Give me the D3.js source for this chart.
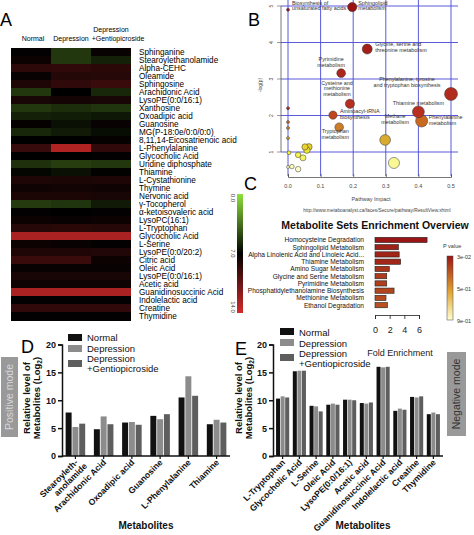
<!DOCTYPE html>
<html lang="en">
<head>
<meta charset="utf-8">
<title>Metabolomics figure: heatmap, pathway impact, enrichment, bar charts</title>
<script src="https://d3js.org/d3.v7.min.js"></script>
<style>
  body { margin: 0; background: #fff; }
  text { font-family: "Liberation Sans", Arial, sans-serif; }
</style>
</head>
<body>
<script>

// ---------- data ----------
// A: heatmap (colour scale 0 .. 14, 7 = black)
var heatGroups = ["Normal", "Depression", "Depression +Gentiopicroside"];
var heatRows = ["Sphinganine", "Stearoylethanolamide", "Alpha-CEHC", "Oleamide", "Sphingosine",
  "Arachidonic Acid", "LysoPE(0:0/16:1)", "Xanthosine", "Oxoadipic acid", "Guanosine",
  "MG(P-18:0e/0:0/0:0)", "8,11,14-Eicosatrienoic acid", "L-Phenylalanine", "Glycocholic Acid",
  "Uridine diphosphate", "Thiamine", "L-Cystathionine", "Thymine", "Nervonic acid", "γ-Tocopherol",
  "α-ketoisovaleric acid", "LysoPC(16:1)", "L-Tryptophan", "Glycocholic Acid", "L-Serine",
  "LysoPE(0:0/20:2)", "Citric acid", "Oleic Acid", "LysoPE(0:0/16:1)", "Acetic acid",
  "Guanidinosuccinic Acid", "Indolelactic acid", "Creatine", "Thymidine"];
var heatNormal = [7.1, 7.4, 8.5, 7.3, 8.0, 5.3, 7.8, 5.3, 6.0, 7.2, 5.8, 7.0, 8.8, 7.0, 5.5, 6.8, 8.0,
  7.5, 7.9, 5.2, 7.1, 7.4, 8.3, 12.6, 7.4, 8.0, 8.9, 7.3, 7.8, 7.5, 12.6, 7.1, 8.6, 7.1];
var heatDepression = [5.3, 5.3, 8.6, 8.2, 8.6, 7.0, 7.7, 5.6, 6.1, 6.5, 6.2, 7.0, 12.8, 7.0, 5.1, 6.5, 7.9,
  7.6, 7.9, 5.4, 7.0, 7.3, 8.4, 12.6, 7.3, 8.0, 8.9, 7.3, 7.8, 7.5, 12.6, 7.1, 8.6, 7.1];
var heatGentio = [7.3, 6.0, 8.4, 8.3, 8.9, 5.8, 7.8, 5.4, 6.3, 7.3, 6.6, 7.2, 8.6, 7.1, 5.3, 6.9, 8.0,
  7.5, 7.8, 6.2, 7.1, 7.4, 8.3, 12.6, 7.1, 8.1, 7.4, 7.3, 7.8, 7.5, 12.6, 7.1, 8.6, 7.1];
var heatTicks = ["0.0", "7.0", "14.0"];

// B: pathway impact vs -log(p)
var pathNames = ["Biosynthesis of unsaturated fatty acids", "Sphingolipid metabolism",
  "Glycine, serine and threonine metabolism", "Pyrimidine metabolism",
  "Phenylalanine, tyrosine and tryptophan biosynthesis", "Cysteine and methionine metabolism",
  "Aminoacyl-tRNA biosynthesis", "Thiamine metabolism", "Phenylalanine metabolism",
  "Tryptophan metabolism", "Methane metabolism", "", "", "", "", "", "", "", "", "", "", "", "", "", ""];
var pathImpact = [0.0, 0.197, 0.243, 0.163, 0.5, 0.19, 0.138, 0.40, 0.41, 0.157, 0.298, 0.325,
  0.0, 0.0, 0.0, 0.0, 0.003, 0.052, 0.064, 0.058, 0.031, 0.046, 0.0, 0.012, 0.031];
var pathLogP = [4.9, 4.97, 3.82, 3.16, 2.59, 2.32, 2.01, 2.1, 1.85, 1.68, 1.33, 0.70,
  2.2, 1.82, 1.66, 1.38, 0.98, 1.14, 1.14, 1.05, 0.92, 0.84, 0.59, 0.6, 0.53];
var impactTicks = [0, 0.1, 0.2, 0.3, 0.4, 0.5];
var logPTicks = [1, 2, 3, 4, 5];

// C: enrichment overview
var setNames = ["Homocysteine Degradation", "Sphingolipid Metabolism",
  "Alpha Linolenic Acid and Linoleic Acid...", "Thiamine Metabolism", "Amino Sugar Metabolism",
  "Glycine and Serine Metabolism", "Pyrimidine Metabolism", "Phosphatidylethanolamine Biosynthesis",
  "Methionine Metabolism", "Ethanol Degradation"];
var setFold = [7.1, 3.2, 3.3, 3.5, 1.95, 1.6, 1.6, 2.6, 1.5, 1.7];
var setP = [0.03, 0.07, 0.08, 0.09, 0.13, 0.16, 0.17, 0.19, 0.21, 0.23];
var foldTicks = [0, 2, 4, 6];
var pTickLabels = ["3e-02", "5e-01", "9e-01"];

// D / E: relative level bars
var barSeries = ["Normal", "Depression", "Depression\n+Gentiopicroside"];
var posGroups = ["Stearoyleth-\nanolamide", "Arachidonic Acid", "Oxoadipic acid", "Guanosine",
  "L-Phenylalanine", "Thiamine"];
var posNormal = [7.8, 4.8, 6.0, 7.2, 10.5, 5.7];
var posDepression = [5.2, 7.1, 6.1, 6.6, 14.3, 6.5];
var posGentio = [5.8, 5.7, 5.6, 7.5, 10.8, 6.0];
var negGroups = ["L-Tryptophan", "Glycocholic Acid", "L-Serine", "Oleic Acid", "LysoPE(0:0/16:1)",
  "Acetic acid", "Guanidinosuccinic Acid", "Indolelactic acid", "Creatine", "Thymidine"];
var negNormal = [10.3, 15.2, 9.0, 9.2, 10.1, 9.5, 16.0, 8.1, 10.6, 7.5];
var negDepression = [10.7, 15.3, 8.9, 9.4, 10.1, 9.4, 15.9, 8.5, 10.5, 7.8];
var negGentio = [10.5, 15.3, 8.0, 9.2, 10.0, 9.6, 16.0, 8.3, 10.7, 7.5];
var levelTicks = [0, 5, 10, 15, 20];

// ---------- svg ----------
var w = 474, h = 535;
var svg = d3.select("body").append("svg")
    .attr("width", w).attr("height", h)
    .style("background", "#fff");
var defs = svg.append("defs");

function panelLetter(t, x, y) {
  svg.append("text").attr("x", x).attr("y", y)
      .attr("font-size", 18).attr("fill", "#000").text(t);
}

// ================= A: heatmap =================
panelLetter("A", 0, 26);

var heatColor = d3.scaleLinear().domain([0, 7, 14])
    .range(["#8ee23a", "#000000", "#d42a2a"]).clamp(true);
var hx = d3.scaleBand().domain(heatGroups).range([11, 131]);
var hy = d3.scaleBand().domain(d3.range(heatRows.length)).range([48, 320]);

var heatCols = [heatNormal, heatDepression, heatGentio];
heatCols.forEach(function (col, ci) {
  svg.append("g").attr("shape-rendering", "crispEdges").selectAll("rect")
      .data(col)
      .enter().append("rect")
      .attr("x", hx(heatGroups[ci]))
      .attr("y", function (d, i) { return hy(i); })
      .attr("width", hx.bandwidth() + (ci < 2 ? 1 : 0))
      .attr("height", hy.bandwidth() + 1)
      .attr("fill", function (d) { return heatColor(d); });
});

// column headers
svg.append("text").attr("x", hx(heatGroups[0]) + hx.bandwidth() / 2 + 2).attr("y", 41)
    .attr("text-anchor", "middle").attr("font-size", 7).text("Normal");
svg.append("text").attr("x", hx(heatGroups[1]) + hx.bandwidth() / 2).attr("y", 41)
    .attr("text-anchor", "middle").attr("font-size", 7).text("Depression");
svg.append("text").attr("x", hx(heatGroups[2]) + hx.bandwidth() / 2).attr("y", 32)
    .attr("text-anchor", "middle").attr("font-size", 7).text("Depression");
svg.append("text").attr("x", hx(heatGroups[2]) + hx.bandwidth() / 2 + 7).attr("y", 41)
    .attr("text-anchor", "middle").attr("font-size", 7).text("+Gentiopicroside");

// row labels
svg.append("g").selectAll("text")
    .data(heatRows)
    .enter().append("text")
    .attr("x", 139)
    .attr("y", function (d, i) { return hy(i) + hy.bandwidth() / 2 + 3; })
    .attr("font-size", 8.2)
    .attr("fill", "#000")
    .text(function (d) { return d; });

// colour bar
var hg = defs.append("linearGradient").attr("id", "heatGrad")
    .attr("x1", 0).attr("y1", 0).attr("x2", 0).attr("y2", 1);
[0, 3.5, 7, 10.5, 14].forEach(function (v) {
  hg.append("stop").attr("offset", v / 14).attr("stop-color", heatColor(v));
});
var cbY = d3.scaleLinear().domain([0, 14]).range([194, 313]);
svg.append("rect").attr("x", 237).attr("y", cbY(0)).attr("width", 6)
    .attr("height", cbY(14) - cbY(0)).attr("fill", "url(#heatGrad)");
heatTicks.forEach(function (t) {
  var yy = cbY(+t);
  if (+t === 0) yy += 4;
  if (+t === 14) yy -= 6;
  svg.append("text").attr("transform", "translate(231," + yy + ") rotate(90)")
      .attr("text-anchor", "middle").attr("font-size", 6).attr("fill", "#444").text(t);
});

// ================= B: pathway impact =================
panelLetter("B", 248, 26);

var bx = d3.scaleLinear().domain([0, 0.5]).range([288, 451]);
var by = d3.scaleLinear().domain([1, 5]).range([152, 6]);
var br = d3.scaleSqrt().domain([0, 0.5]).range([1.5, 6.5]);
var bColor = d3.scaleLinear()
    .domain([0.5, 1.0, 1.35, 1.7, 1.9, 2.1, 5])
    .range(["#ffffd8", "#f2ee30", "#d8a630", "#cc7a28", "#c8641e", "#b83020", "#9a1212"])
    .clamp(true);

var gB = svg.append("g");
// grid
gB.selectAll("line.v").data(impactTicks).enter().append("line")
    .attr("x1", function (d) { return bx(d); }).attr("x2", function (d) { return bx(d); })
    .attr("y1", 0).attr("y2", 176)
    .attr("stroke", "#4848d8").attr("stroke-width", 0.9);
gB.selectAll("line.h").data(logPTicks).enter().append("line")
    .attr("x1", 281).attr("x2", 458)
    .attr("y1", function (d) { return by(d); }).attr("y2", function (d) { return by(d); })
    .attr("stroke", "#4848d8").attr("stroke-width", 0.9);

// y axis
gB.append("line").attr("x1", 281).attr("x2", 281).attr("y1", by(5)).attr("y2", by(1))
    .attr("stroke", "#555").attr("stroke-width", 0.8);
logPTicks.forEach(function (t) {
  gB.append("line").attr("x1", 277).attr("x2", 281).attr("y1", by(t)).attr("y2", by(t))
      .attr("stroke", "#555").attr("stroke-width", 0.6);
  gB.append("text").attr("transform", "translate(273," + by(t) + ") rotate(-90)")
      .attr("text-anchor", "middle").attr("font-size", 5).attr("fill", "#444").text(t);
});
gB.append("text").attr("transform", "translate(262,85) rotate(-90)")
    .attr("text-anchor", "middle").attr("font-size", 5).attr("fill", "#444").text("-log(p)");

// x axis
var bxAxis = gB.append("g").attr("transform", "translate(0,177)")
    .call(d3.axisTop(bx).tickValues(impactTicks).tickSize(3).tickFormat(""));
bxAxis.select(".domain").attr("stroke", "#555").attr("stroke-width", 0.8);
bxAxis.selectAll(".tick line").attr("stroke", "#555").attr("stroke-width", 0.8);
impactTicks.forEach(function (t) {
  gB.append("text").attr("x", bx(t)).attr("y", 188).attr("text-anchor", "middle")
      .attr("font-size", 5.5).attr("fill", "#444").text(d3.format(".1f")(t));
});
gB.append("text").attr("x", 371).attr("y", 201).attr("text-anchor", "middle")
    .attr("font-size", 5.5).attr("fill", "#444").text("Pathway Impact");
gB.append("text").attr("x", 377).attr("y", 212).attr("text-anchor", "middle")
    .attr("font-size", 4.8).attr("fill", "#444")
    .text("http://www.metaboanalyst.ca/faces/Secure/pathway/ResultView.xhtml");

// bubbles (draw small ones last so they sit on top)
var bubbles = pathImpact.map(function (d, i) {
  return { name: pathNames[i], impact: d, logp: pathLogP[i] };
});
bubbles.sort(function (a, b) { return b.impact - a.impact; });
gB.selectAll("circle").data(bubbles).enter().append("circle")
    .attr("cx", function (d) { return bx(d.impact); })
    .attr("cy", function (d) { return by(d.logp); })
    .attr("r", function (d) { return br(d.impact); })
    .attr("fill", function (d) { return bColor(d.logp); })
    .attr("stroke", "#333").attr("stroke-width", 0.5);

// bubble labels: [index, dx, dy, anchor, lines]
var bubbleLabels = [
  [0, 4, -5, "start", ["Biosynthesis of", "unsaturated fatty acids"]],
  [1, 6, -2.5, "start", ["Sphingolipid", "metabolism"]],
  [2, 8, -3, "start", ["Glycine, serine and", "threonine metabolism"]],
  [3, -10, -12, "middle", ["Pyrimidine", "metabolism"]],
  [4, -44, -13, "middle", ["Phenylalanine, tyrosine", "and tryptophan biosynthesis"]],
  [5, -13, -19, "middle", ["Cysteine and", "methionine", "metabolism"]],
  [6, 7, -2, "start", ["Aminoacyl-tRNA", "biosynthesis"]],
  [7, 0, -7, "middle", ["Thiamine metabolism"]],
  [8, 7, -2, "start", ["Phenylalanine", "metabolism"]],
  [9, -4, 6, "middle", ["Tryptophan", "metabolism"]],
  [10, 10, -22, "middle", ["Methane", "metabolism"]]
];
bubbleLabels.forEach(function (l) {
  var i = l[0];
  var t = gB.append("text")
      .attr("x", bx(pathImpact[i]) + l[1])
      .attr("y", by(pathLogP[i]) + l[2])
      .attr("text-anchor", l[3]).attr("font-size", 5.4).attr("fill", "#333");
  l[4].forEach(function (s, k) {
    t.append("tspan").attr("x", bx(pathImpact[i]) + l[1]).attr("dy", k === 0 ? 0 : 5.6).text(s);
  });
});

// ================= C: enrichment =================
panelLetter("C", 244, 190);

svg.append("text").attr("x", 375).attr("y", 229).attr("text-anchor", "middle")
    .attr("font-size", 10.5).attr("font-weight", "bold").attr("fill", "#111")
    .text("Metabolite Sets Enrichment Overview");

var cx = d3.scaleLinear().domain([0, 6]).range([375, 419]);
var cy = d3.scaleBand().domain(setNames).range([235.3, 309.8]).padding(0.28);
var pColor = d3.scaleLinear().domain([0.03, 0.5, 0.9])
    .range(["#9a1515", "#e0a030", "#ffffd0"]);

var gC = svg.append("g");
gC.selectAll("rect").data(setNames).enter().append("rect")
    .attr("x", cx(0))
    .attr("y", function (d) { return cy(d); })
    .attr("width", function (d, i) { return cx(setFold[i]) - cx(0); })
    .attr("height", cy.bandwidth())
    .attr("fill", function (d, i) { return pColor(setP[i]); })
    .attr("stroke", "#222").attr("stroke-width", 0.6);
gC.selectAll("text.lab").data(setNames).enter().append("text")
    .attr("x", 364)
    .attr("y", function (d) { return cy(d) + cy.bandwidth() / 2 + 2.4; })
    .attr("text-anchor", "end").attr("font-size", 6.6).attr("fill", "#111")
    .text(function (d) { return d; });

var cAxis = gC.append("g").attr("transform", "translate(0,315)")
    .call(d3.axisBottom(cx).tickValues(foldTicks).tickFormat(d3.format("d"))
        .tickSize(4).tickPadding(8));
cAxis.select(".domain").attr("stroke", "#222").attr("stroke-width", 0.8);
cAxis.selectAll(".tick line").attr("stroke", "#222").attr("stroke-width", 0.8);
cAxis.selectAll(".tick text").attr("font-size", 9).attr("fill", "#222")
    .attr("font-family", "Liberation Sans, Arial, sans-serif");
gC.append("text").attr("x", 400).attr("y", 356).attr("text-anchor", "middle")
    .attr("font-size", 9).attr("fill", "#222").text("Fold Enrichment");

// p value legend
var pg = defs.append("linearGradient").attr("id", "pGrad")
    .attr("x1", 0).attr("y1", 0).attr("x2", 0).attr("y2", 1);
[0.03, 0.25, 0.5, 0.7, 0.9].forEach(function (v) {
  pg.append("stop").attr("offset", (v - 0.03) / 0.87).attr("stop-color", pColor(v));
});
var pY = d3.scaleLinear().domain([0, 2]).range([256, 320]);
gC.append("rect").attr("x", 447).attr("y", pY(0)).attr("width", 6)
    .attr("height", pY(2) - pY(0)).attr("fill", "url(#pGrad)")
    .attr("stroke", "#444").attr("stroke-width", 0.5);
gC.append("text").attr("x", 443).attr("y", 248).attr("font-size", 5.5)
    .attr("fill", "#333").text("P value");
pTickLabels.forEach(function (t, i) {
  gC.append("text").attr("x", 457).attr("y", pY(i) + 2.5).attr("font-size", 5.5)
      .attr("fill", "#333").text(t);
});

// ================= D / E: bar charts =================
var barColors = ["#111111", "#8c8c8c", "#5e5e5e"];

function barPanel(o) {
  var g = svg.append("g");
  var x0 = d3.scaleBand().domain(d3.range(o.groups.length)).range(o.xr)
      .paddingInner(o.pi).paddingOuter(o.po);
  var x1 = d3.scaleBand().domain(d3.range(3)).range([0, x0.bandwidth()]).padding(0.12);
  var y = d3.scaleLinear().domain([0, 20]).range([456, 344.5]);

  o.series.forEach(function (vals, si) {
    g.append("g").selectAll("rect").data(vals).enter().append("rect")
        .attr("x", function (d, i) { return x0(i) + x1(si); })
        .attr("y", function (d) { return y(d); })
        .attr("width", x1.bandwidth())
        .attr("height", function (d) { return y(0) - y(d); })
        .attr("fill", barColors[si]);
  });

  var ya = g.append("g").attr("transform", "translate(" + o.xr[0] + ",0)")
      .call(d3.axisLeft(y).tickValues(levelTicks).tickSize(4).tickPadding(2));
  ya.select(".domain").attr("stroke", "#111").attr("stroke-width", 1.5);
  ya.selectAll(".tick line").attr("stroke", "#111").attr("stroke-width", 1.5);
  ya.selectAll(".tick text").attr("font-size", 9).attr("font-weight", "bold")
      .attr("fill", "#111").attr("font-family", "Liberation Sans, Arial, sans-serif");

  g.append("line").attr("x1", o.xr[0]).attr("x2", o.xr[1]).attr("y1", y(0)).attr("y2", y(0))
      .attr("stroke", "#111").attr("stroke-width", 1.5);
  o.groups.forEach(function (name, i) {
    var c = x0(i) + x0.bandwidth() / 2;
    g.append("line").attr("x1", c).attr("x2", c).attr("y1", y(0)).attr("y2", y(0) + 3)
        .attr("stroke", "#111").attr("stroke-width", 1.2);
    var t = g.append("text")
        .attr("transform", "translate(" + (c + 3) + "," + (y(0) + 7) + ") rotate(-45)")
        .attr("text-anchor", "end").attr("font-size", 8.6).attr("font-weight", "bold")
        .attr("fill", "#111");
    name.split("\n").forEach(function (s, k) {
      t.append("tspan").attr("x", k * 4).attr("dy", k === 0 ? 0 : "1.05em").text(s);
    });
  });

  // y title
  var yt = g.append("text")
      .attr("transform", "translate(" + o.yTitleX + ",398) rotate(-90)")
      .attr("text-anchor", "middle").attr("font-size", 9.5).attr("font-weight", "bold")
      .attr("fill", "#111");
  yt.append("tspan").attr("x", 0).attr("dy", 0).text("Relative level of");
  var l2 = yt.append("tspan").attr("x", 0).attr("dy", "1.1em").text("Metabolites (Log");
  l2.append("tspan").attr("font-size", 6.5).attr("dy", 2).text("2");
  l2.append("tspan").attr("dy", -2).text(")");

  g.append("text").attr("x", o.xTitleX).attr("y", 529).attr("text-anchor", "middle")
      .attr("font-size", 10).attr("font-weight", "bold").attr("fill", "#111")
      .text("Metabolites");

  // legend
  barSeries.forEach(function (s, si) {
    g.append("rect").attr("x", o.leg[0]).attr("y", o.legSq[si])
        .attr("width", 14).attr("height", 7).attr("fill", barColors[si]);
    var lt = g.append("text").attr("x", o.leg[0] + 19).attr("y", o.legTx[si])
        .attr("font-size", 9.5).attr("fill", "#111");
    s.split("\n").forEach(function (p, k) {
      lt.append("tspan").attr("x", o.leg[0] + 19).attr("dy", k === 0 ? 0 : 10).text(p);
    });
  });

  // mode box
  g.append("rect").attr("x", o.box[0]).attr("y", o.box[1]).attr("width", o.box[2])
      .attr("height", o.box[3]).attr("fill", "#999");
  g.append("text")
      .attr("transform", "translate(" + (o.box[0] + o.box[2] / 2 + 3.5) + "," +
          (o.box[1] + o.box[3] / 2) + ") rotate(-90)")
      .attr("text-anchor", "middle").attr("font-size", 10.5).attr("fill", o.boxText)
      .text(o.mode);
}

panelLetter("D", 21, 353);
barPanel({
  groups: posGroups, series: [posNormal, posDepression, posGentio],
  xr: [62, 230], pi: 0.25, po: 0.1, yTitleX: 30, xTitleX: 146,
  leg: [68], legSq: [334, 345, 360], legTx: [340.5, 351.5, 361.5],
  box: [1, 357, 17, 80], boxText: "#d8d8d8", mode: "Positive mode"
});

panelLetter("E", 235, 355);
barPanel({
  groups: negGroups, series: [negNormal, negDepression, negGentio],
  xr: [273, 443], pi: 0.15, po: 0.15, yTitleX: 242, xTitleX: 363,
  leg: [280], legSq: [328, 339, 354], legTx: [335.5, 346.5, 356.5],
  box: [447, 352, 19, 84], boxText: "#333", mode: "Negative mode"
});

</script>
</body>
</html>
